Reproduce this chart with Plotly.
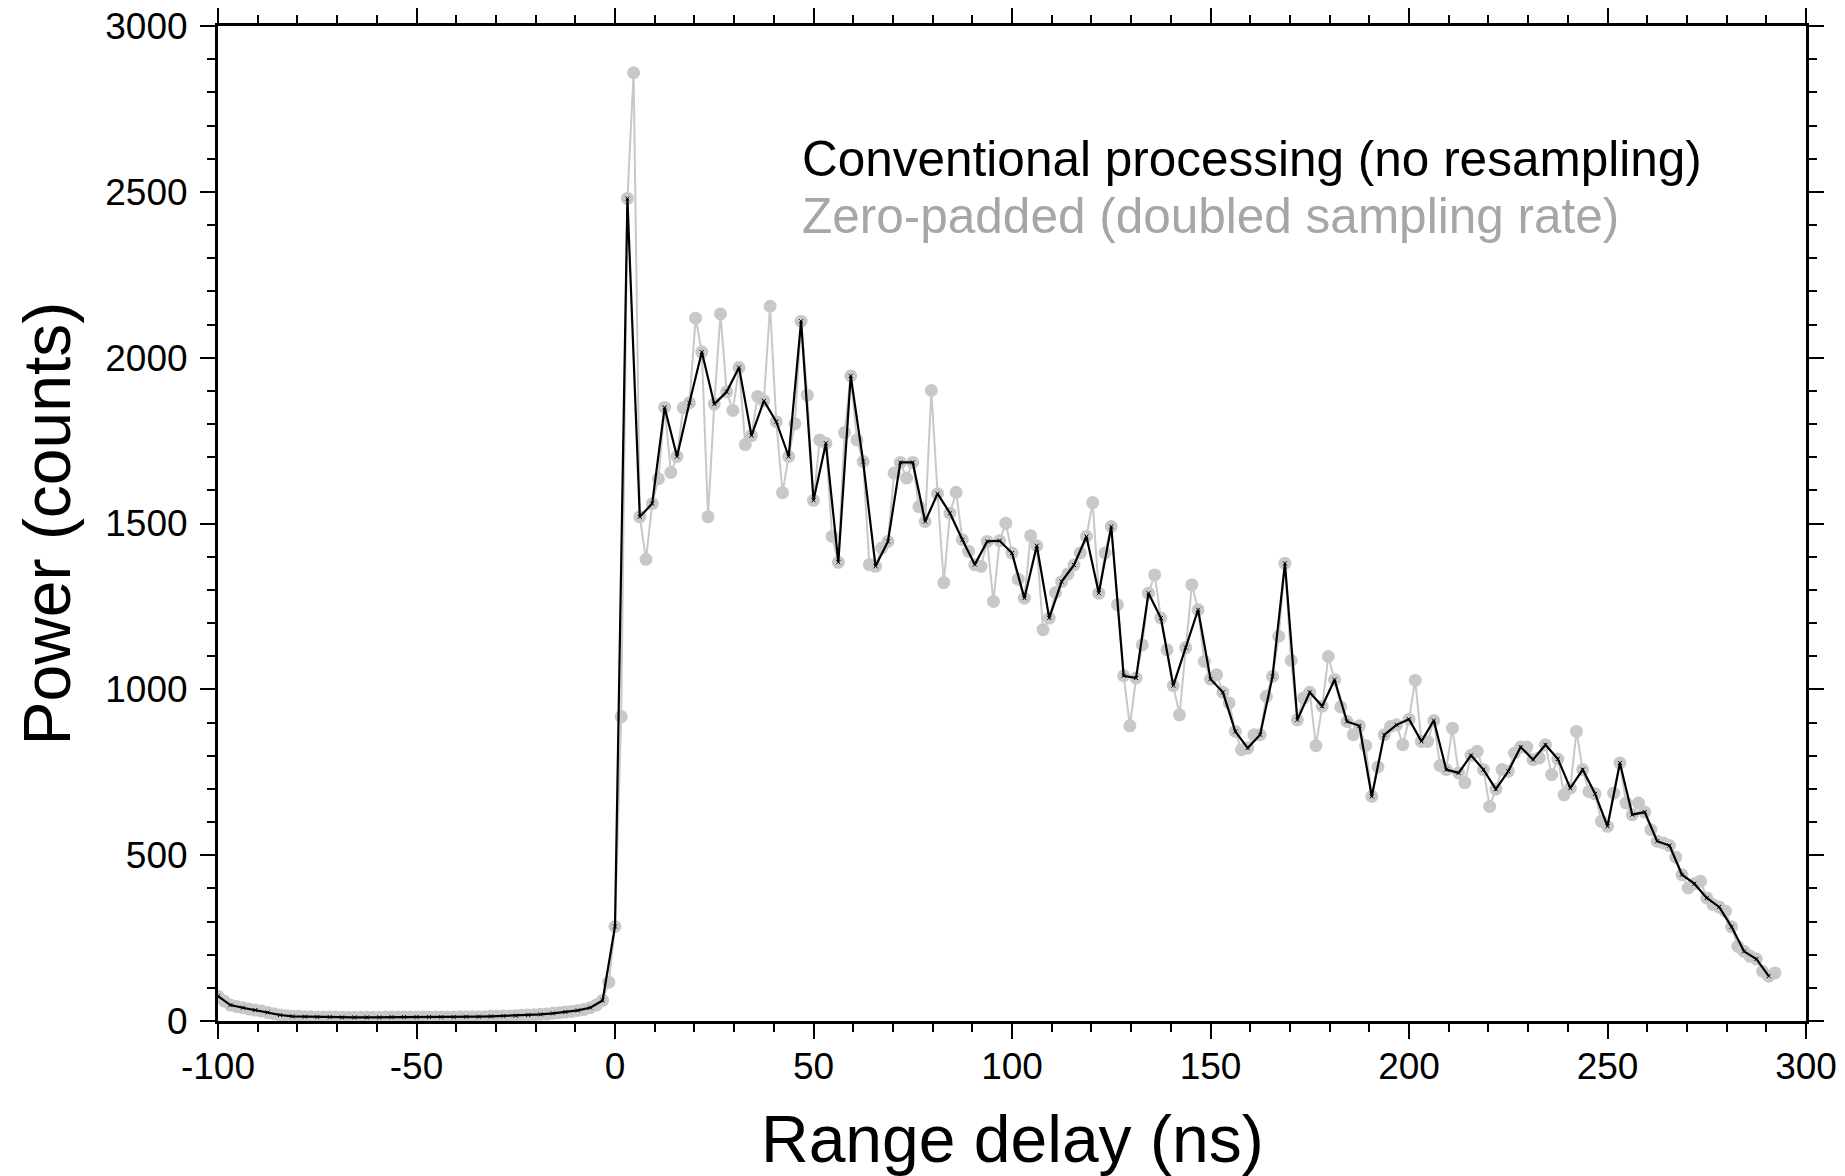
import plotly.graph_objects as go

# ---------------- data ----------------
DT_CONV = 3.125          # ns, conventional sampling interval
K_START = -32            # first conventional sample index (-100 ns)

# Conventional processing (no resampling): power at k*3.125 ns, k = -32 .. 93
conv_neg = [75, 48, 40, 33, 26, 18, 14, 13, 12, 12, 11, 11, 11, 11, 12, 12,
            12, 12, 12, 12, 13, 13, 14, 15, 16, 18, 20, 23, 27, 32, 40, 62]
conv_pos = [285, 2480, 1520, 1560, 1850, 1702, 1864, 2017, 1860, 1897,
            1970, 1765, 1870, 1807, 1702, 2110, 1570, 1742, 1383, 1945,
            1687, 1371, 1446, 1684, 1684, 1506, 1590, 1531, 1451, 1376,
            1446, 1448, 1411, 1275, 1433, 1215, 1325, 1375, 1461, 1290,
            1491, 1041, 1034, 1290, 1215, 1011, 1126, 1240, 1031, 991,
            873, 823, 863, 1039, 1380, 908, 991, 949, 1029, 903,
            890, 677, 863, 893, 910, 843, 906, 758, 748, 801,
            758, 699, 753, 826, 788, 833, 790, 702, 758, 685,
            587, 778, 622, 630, 542, 529, 441, 414, 371, 344,
            284, 210, 187, 135]

# Zero-padded (doubled sampling rate): extra samples half-way between, (k+0.5)*3.125 ns
zp_mid_neg = [60, 44, 36, 30, 22, 16, 14, 13, 12, 12, 11, 11, 11, 12, 12, 12,
              12, 12, 12, 13, 13, 13, 14, 15, 17, 19, 21, 25, 29, 35, 48, 117]
zp_mid_pos = [918, 2859, 1392, 1635, 1654, 1849, 2119, 1520, 2132, 1841,
              1738, 1883, 2155, 1593, 1801, 1887, 1752, 1461, 1774, 1752,
              1376, 1426, 1652, 1637, 1551, 1901, 1322, 1594, 1416, 1371,
              1265, 1501, 1332, 1463, 1180, 1292, 1348, 1411, 1563, 1411,
              1255, 890, 1134, 1345, 1119, 923, 1315, 1084, 1044, 959,
              818, 863, 979, 1160, 1087, 974, 830, 1099, 947, 863,
              830, 766, 888, 833, 1027, 843, 770, 883, 719, 813,
              647, 758, 808, 826, 793, 743, 682, 873, 692, 602,
              687, 657, 657, 577, 537, 494, 401, 421, 351, 331,
              225, 195, 150, 145]

x_ticks = [-100, -50, 0, 50, 100, 150, 200, 250, 300]
y_ticks = [0, 500, 1000, 1500, 2000, 2500, 3000]
label_conv = "Conventional processing (no resampling)"
label_zp = "Zero-padded (doubled sampling rate)"
x_title = "Range delay (ns)"
y_title = "Power (counts)"

# ---------------- build series ----------------
conv_y = conv_neg + conv_pos
conv_x = [(K_START + i) * DT_CONV for i in range(len(conv_y))]
mid_y = zp_mid_neg + zp_mid_pos
zp_x, zp_y = [], []
for i in range(len(conv_y)):
    zp_x.append(conv_x[i]); zp_y.append(conv_y[i])
    zp_x.append(conv_x[i] + DT_CONV / 2); zp_y.append(mid_y[i])

GRAY_DOT = "#c8c8c8"
GRAY_TXT = "#a6a6a6"
FONT = "Liberation Sans, Arial, Helvetica, sans-serif"

fig = go.Figure()
fig.add_trace(go.Scatter(
    x=zp_x, y=zp_y, mode="lines+markers", name=label_zp,
    line=dict(color=GRAY_DOT, width=2),
    marker=dict(color=GRAY_DOT, size=13, line=dict(width=0)),
    showlegend=False))
fig.add_trace(go.Scatter(
    x=conv_x, y=conv_y, mode="lines+markers", name=label_conv,
    line=dict(color="black", width=2.2),
    marker=dict(symbol="x-thin", size=4, color="black", line=dict(width=1, color="black")),
    showlegend=False))

axis_common = dict(
    showline=True, linewidth=3, linecolor="black", mirror="ticks",
    ticks="outside", ticklen=15, tickwidth=2, tickcolor="black",
    showgrid=False, zeroline=False, automargin=False,
    tickfont=dict(size=37, color="black", family=FONT),
)
fig.update_xaxes(
    range=[-100, 300], tickvals=x_ticks, ticktext=[str(v) for v in x_ticks],
    minor=dict(dtick=10, tick0=0, ticks="outside", ticklen=8, tickwidth=2, tickcolor="black"),
    ticklabelstandoff=-4,
    **axis_common)
fig.update_yaxes(
    range=[0, 3000], tickvals=y_ticks, ticktext=[str(v) for v in y_ticks],
    minor=dict(dtick=100, tick0=0, ticks="outside", ticklen=8, tickwidth=2, tickcolor="black"),
    ticklabelstandoff=5,
    **axis_common)

# axis titles (placed in paper coordinates)
fig.add_annotation(x=0.5, y=-0.119, xref="paper", yref="paper", xanchor="center", yanchor="middle",
                   text=x_title, showarrow=False, font=dict(size=66, color="black", family=FONT))
fig.add_annotation(x=-0.1083, y=0.5, xref="paper", yref="paper", xanchor="center", yanchor="middle",
                   text=y_title, textangle=-90, showarrow=False,
                   font=dict(size=66, color="black", family=FONT))

# series labels
fig.add_annotation(x=0.3665, y=0.867, xref="paper", yref="paper", xanchor="left", yanchor="middle",
                   text=label_conv, showarrow=False, font=dict(size=49.5, color="black", family=FONT))
fig.add_annotation(x=0.3665, y=0.810, xref="paper", yref="paper", xanchor="left", yanchor="middle",
                   text=label_zp, showarrow=False, font=dict(size=49.5, color=GRAY_TXT, family=FONT))

fig.update_layout(
    width=1845, height=1176,
    margin=dict(l=218, r=39, t=26, b=155),
    paper_bgcolor="white", plot_bgcolor="white",
    font=dict(family=FONT, color="black"),
)
fig.write_html(
    "out.html",
    config={"displayModeBar": False},
    post_script="document.body.style.margin='0px';document.body.style.overflow='hidden';",
)
